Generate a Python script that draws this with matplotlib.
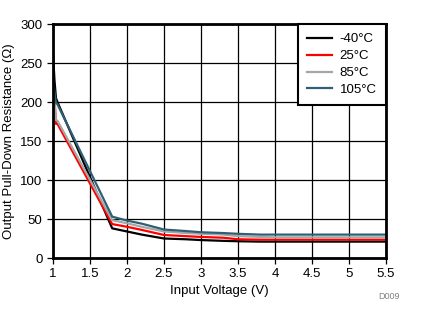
import numpy as np
import matplotlib
matplotlib.use("Agg")
import matplotlib.pyplot as plt

plt.rcParams['font.family'] = ['Liberation Sans', 'DejaVu Sans']

# input voltage (V)
volts = [1.0, 1.02, 1.04, 1.06, 1.8, 2.0, 2.2, 2.5, 2.8, 3.0, 3.3, 3.5, 3.8, 4.0, 5.5]

# output pull-down resistance (ohm) per temperature
r_m40 = [262, 228, 205, 200, 38, 34, 30, 25, 24, 23, 22, 21.5, 21, 21, 21]
r_25 = [225, 205, 172, 172, 43.5, 40, 36, 29.5, 28, 27, 26, 24, 23.5, 23.5, 23.5]
r_85 = [215, 200, 177, 176, 48.5, 44.5, 40, 34, 32, 31, 30, 28, 27, 26.5, 26.5]
r_105 = [230, 212, 199, 197, 53, 48, 44, 36.5, 34.5, 33, 32, 31, 30, 30, 30]

labels = ['-40°C', '25°C', '85°C', '105°C']
colors = ['#000000', '#FF0000', '#A6A6A6', '#2E5F74']

fig = plt.figure(figsize=(4.23, 3.24), dpi=100)
ax = fig.add_axes([0.1253, 0.2037, 0.7872, 0.7222])

for ys, lab, c in zip([r_m40, r_25, r_85, r_105], labels, colors):
    ax.plot(volts, ys, color=c, lw=1.6, label=lab)

ax.set_xlim(1, 5.5)
ax.set_ylim(0, 300)
ax.set_xticks(np.arange(1, 5.51, 0.5))
ax.set_xticklabels(['1', '1.5', '2', '2.5', '3', '3.5', '4', '4.5', '5', '5.5'])
ax.set_yticks(np.arange(0, 301, 50))
ax.grid(True, color='black', lw=0.9)
ax.tick_params(labelsize=9.5, length=4, width=0.9, direction='out', colors='black')
for s in ax.spines.values():
    s.set_linewidth(2)

ax.set_xlabel('Input Voltage (V)', fontsize=9.5, labelpad=3)
ax.set_ylabel('Output Pull-Down Resistance (Ω)', fontsize=9.5, labelpad=4)

leg = ax.legend(loc='upper right', fontsize=9.5, frameon=True, fancybox=False,
                borderaxespad=0.0, handlelength=1.9, labelspacing=0.35,
                borderpad=0.7, handletextpad=0.6)
leg.get_frame().set_edgecolor('black')
leg.get_frame().set_linewidth(1.5)
leg.get_frame().set_alpha(1)

fig.text(0.945, 0.078, 'D009', fontsize=6.5, color='#808080', ha='right')

fig.savefig('out.png', dpi=100)
